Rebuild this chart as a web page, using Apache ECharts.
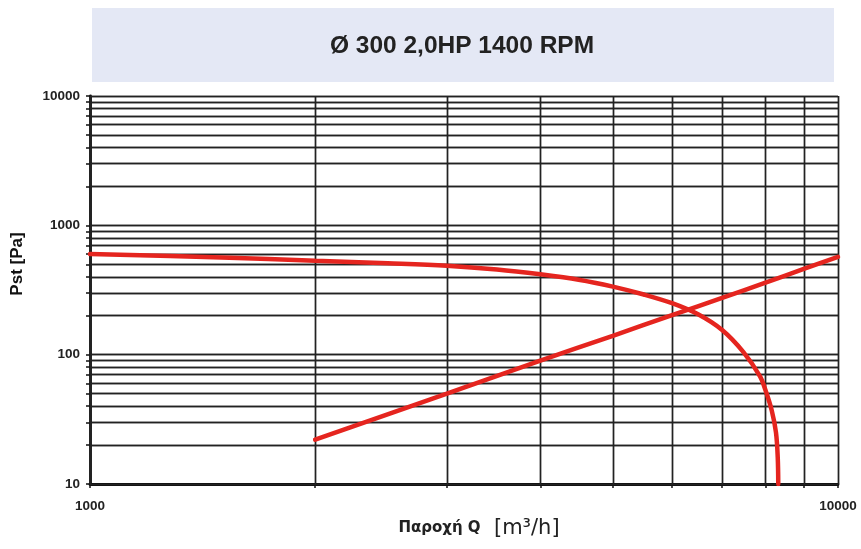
<!DOCTYPE html>
<html>
<head>
<meta charset="utf-8">
<script src="https://cdn.jsdelivr.net/npm/echarts@6/dist/echarts.min.js"></script>
<style>html,body{margin:0;padding:0;background:#fff;}#c{width:861px;height:549px;}</style>
</head>
<body>
<div id="c"></div>
<script>
const titleText = 'Ø 300 2,0HP 1400 RPM';
const xGridValues = [1000,2000,3000,4000,5000,6000,7000,8000,9000,10000];
const xLabelValues = [1000,10000];
const yGridValues = [10,20,30,40,50,60,70,80,90,100,200,300,400,500,600,700,800,900,1000,2000,3000,4000,5000,6000,7000,8000,9000,10000];
const yLabelValues = [10,100,1000,10000];
// fan curve (Q m3/h, Pst Pa)
const fanQ = [1000,1500,2000,2500,3000,3500,4000,4500,5000,5500,6000,6500,7000,7470,7866,8000,8155,8262,8307,8320];
const fanP = [601,565,533,510,488,456,418,380,336,292,250,205,155,105,68,53,37,25,16,10];
// system curve
const sysQ = [2000,3000,4000,5000,6000,7000,8000,9000,10000];
const sysP = [22,50,90,140,202,275,360,460,570];

const chart = echarts.init(document.getElementById('c'), null, {renderer:'canvas'});
const gridColor = '#222';
const red = '#e5251f';
const labelFont = '"Liberation Sans", Arial, sans-serif';
chart.setOption({
  animation:false,
  backgroundColor:'#ffffff',
  graphic:[
    {type:'rect', shape:{x:92,y:8,width:742,height:74}, style:{fill:'#e4e8f5'}, z:0},
    {type:'text', x:462, y:46, style:{text:titleText, fill:'#222', font:'bold 24.5px "Liberation Sans", Arial, sans-serif', align:'center', verticalAlign:'middle'}, z:1}
  ],
  grid:{left:90,right:23,top:96,bottom:65,containLabel:false},
  xAxis:{
    type:'log', logBase:10, min:1000, max:10000,
    name:'{a|Παροχή Q}{b|  [m³/h]}',
    nameLocation:'middle', nameGap:34,
    nameTextStyle:{padding:[0,0,0,30],
      rich:{
        a:{fontFamily:'"DejaVu Sans", sans-serif', fontWeight:'bold', fontSize:15, color:'#222'},
        b:{fontFamily:'"DejaVu Sans", sans-serif', fontSize:21, color:'#222'}
      }},
    axisLine:{show:true, lineStyle:{color:'#111', width:2.8}},
    axisTick:{show:true, inside:false, length:4, customValues:xGridValues, lineStyle:{color:'#111', width:1.5}},
    axisLabel:{customValues:xLabelValues, margin:15, fontSize:13.5, fontWeight:'bold', color:'#222', fontFamily:labelFont, formatter:v=>String(v)},
    splitLine:{show:true, lineStyle:{color:gridColor, width:1.4}},
    minorTick:{show:false}, minorSplitLine:{show:false}
  },
  yAxis:{
    type:'log', logBase:10, min:10, max:10000,
    name:'Pst [Pa]', nameLocation:'middle', nameGap:64, nameRotate:90,
    nameTextStyle:{fontFamily:labelFont, fontWeight:'bold', fontSize:17, color:'#111', padding:[0,0,0,52]},
    axisLine:{show:true, lineStyle:{color:'#111', width:2.8}},
    axisTick:{show:true, inside:false, length:4, customValues:yGridValues, lineStyle:{color:'#111', width:1.5}},
    axisLabel:{customValues:yLabelValues, margin:10, fontSize:13.5, fontWeight:'bold', color:'#222', fontFamily:labelFont, formatter:v=>String(v)},
    splitLine:{show:true, lineStyle:{color:gridColor, width:1.4}},
    minorTick:{show:false}, minorSplitLine:{show:false}
  },
  series:[
    {type:'line', name:'grid', data:[], silent:true,
      markLine:{silent:true, symbol:'none', label:{show:false}, animation:false,
        lineStyle:{color:gridColor, width:1.4, type:'solid'},
        data: xGridValues.map(v=>({xAxis:v})).concat(yGridValues.map(v=>({yAxis:v})))}
    },
    {type:'line', name:'fan', data:fanQ.map((q,i)=>[q,fanP[i]]), smooth:0.35, showSymbol:false,
      lineStyle:{color:red, width:4.5, cap:'round'}, z:5},
    {type:'line', name:'system', data:sysQ.map((q,i)=>[q,sysP[i]]), smooth:0.2, showSymbol:false,
      lineStyle:{color:red, width:4.5, cap:'round'}, z:5}
  ]
});
</script>
</body>
</html>
